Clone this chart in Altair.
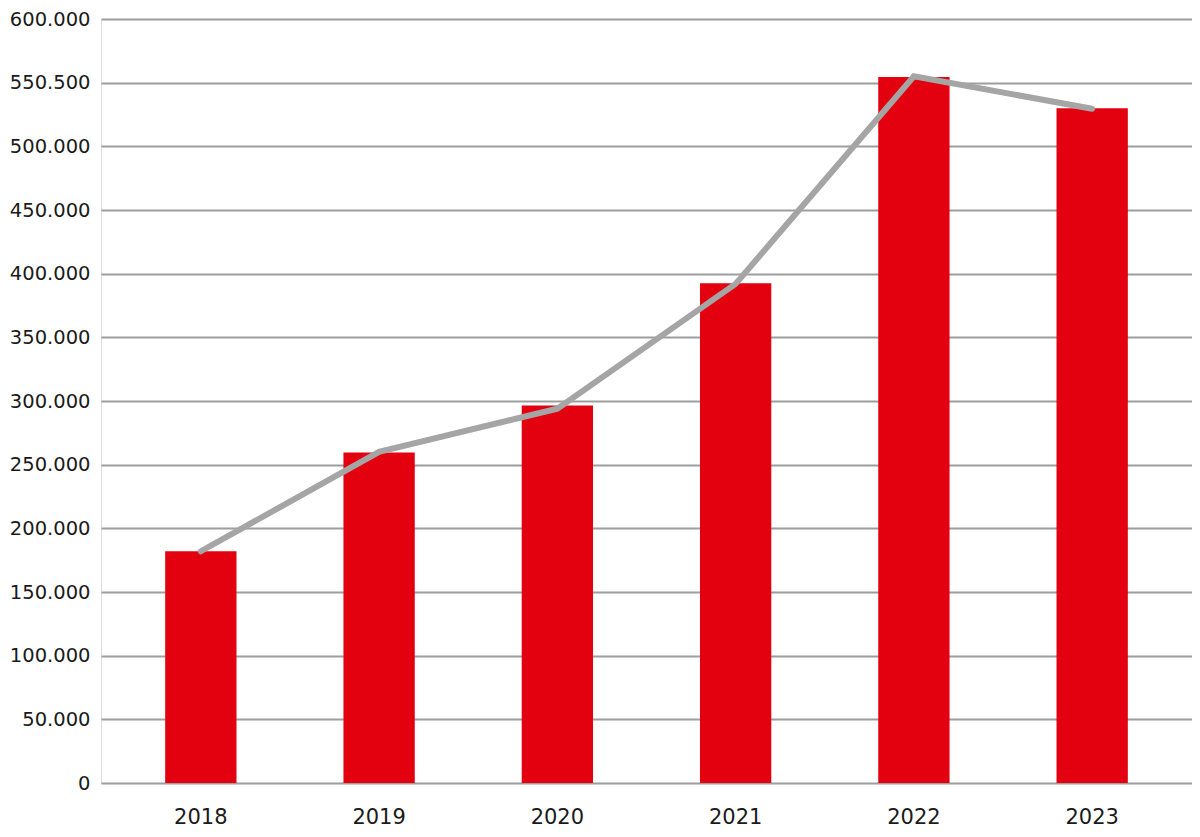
import altair as alt
import pandas as pd

years = ["2018", "2019", "2020", "2021", "2022", "2023"]
bar_values = [182000, 259500, 296500, 392500, 554500, 530000]
line_values = [182000, 260000, 294000, 392000, 555000, 529500]

y_tick_values = [0, 50000, 100000, 150000, 200000, 250000, 300000,
                 350000, 400000, 450000, 500000, 550000, 600000]
y_tick_labels = ["0", "50.000", "100.000", "150.000", "200.000", "250.000",
                 "300.000", "350.000", "400.000", "450.000", "500.000",
                 "550.500", "600.000"]

df = pd.DataFrame({"year": years, "bar": bar_values, "line": line_values})

label_expr = "''"
for v, lab in zip(reversed(y_tick_values), reversed(y_tick_labels)):
    label_expr = f"datum.value == {v} ? '{lab}' : ({label_expr})"

FONT = "DejaVu Sans"

x_axis = alt.Axis(
    title=None, labelAngle=0, ticks=False, domain=False, grid=False,
    domainWidth=0, gridWidth=0,
    labelFont=FONT, labelFontSize=21, labelColor="#1a1a1a",
    labelPadding=40, labelBaseline="alphabetic",
)
y_axis = alt.Axis(
    title=None, values=y_tick_values, labelExpr=label_expr,
    ticks=False, tickSize=0, domain=False, domainWidth=0, grid=True,
    gridColor="#9d9d9d", gridWidth=2,
    labelFont=FONT, labelFontSize=19.5, labelColor="#1a1a1a",
    labelPadding=11,
)

x_scale = alt.Scale(paddingInner=0.6, paddingOuter=0.36)
y_scale = alt.Scale(domain=[0, 600000], nice=False)

bars = alt.Chart(df).mark_bar(color="#e3000f", strokeWidth=0).encode(
    x=alt.X("year:N", sort=years, scale=x_scale, axis=x_axis),
    y=alt.Y("bar:Q", scale=y_scale, axis=y_axis),
)

line = alt.Chart(df).mark_line(
    color="#a5a5a5", strokeWidth=6, strokeCap="round", strokeJoin="miter"
).encode(
    x=alt.X("year:N", sort=years, scale=x_scale, axis=x_axis),
    y=alt.Y("line:Q", scale=y_scale, axis=y_axis),
)

chart = alt.layer(bars, line).properties(
    width=1091,
    height=764,
    autosize=alt.AutoSizeParams(type="none"),
    padding={"left": 93, "top": 11, "right": 0, "bottom": 46},
).configure_view(strokeWidth=0, stroke="transparent").configure_axis(
    domain=False, domainWidth=0
).configure(background="white")

chart.save("out.html", embed_options={"renderer": "svg", "actions": False})
